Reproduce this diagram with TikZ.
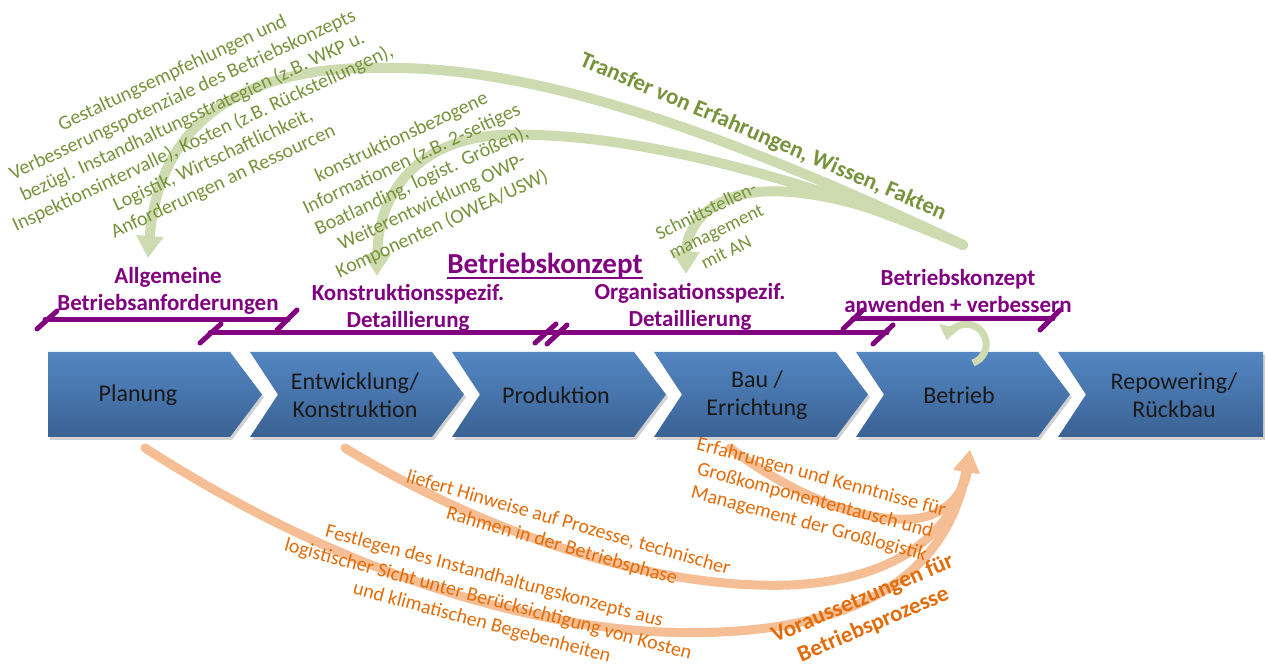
\documentclass[tikz,border=0pt]{standalone}
\usepackage{fontspec}
\setmainfont{Carlito}
\usetikzlibrary{arrows.meta,shadows}
\definecolor{chevtop}{RGB}{84,134,194}
\definecolor{chevbot}{RGB}{58,98,148}
\definecolor{purp}{RGB}{128,0,128}
\definecolor{olivetext}{RGB}{119,147,60}
\definecolor{greenband}{RGB}{206,219,176}
\definecolor{orangeband}{RGB}{245,190,148}
\definecolor{orangetext}{RGB}{227,108,9}
\begin{document}
\begin{tikzpicture}[x=0.5pt,y=-0.5pt,
  chev/.style={top color=chevtop,bottom color=chevbot,draw=none,
    drop shadow={shadow xshift=1pt,shadow yshift=-1.5pt,opacity=0.35}},
  chevlabel/.style={font=\fontsize{12}{14}\selectfont,align=center,text=black!90,inner sep=0pt},
  phase/.style={font=\fontsize{11.5}{13.5}\selectfont\bfseries,text=purp,align=center,inner sep=0pt},
  bar/.style={draw=purp,line width=2.5pt,line cap=round},
  gtext/.style={font=\fontsize{10}{12}\selectfont,text=olivetext,align=center,inner sep=0pt},
  otext/.style={font=\fontsize{10}{12}\selectfont,text=orangetext,align=center,inner sep=0pt},
  garrow/.style={draw=greenband,line width=5pt,line cap=round,-{Triangle[width=13pt,length=11pt]}},
  oarrow/.style={draw=orangeband,line width=4.5pt,line cap=round,-{Triangle[width=12pt,length=11pt]}},
  looparrow/.style={draw=greenband,line width=3.5pt,-{Triangle[width=10pt,length=7pt]}},
]
\useasboundingbox (0,0) rectangle (1266,667);
\fill[white] (0,0) rectangle (1266,667);

% green arrows
\coordinate (gsrc) at (963,245);
\coordinate (g1) at (148,258);
\coordinate (g2) at (377,276);
\coordinate (g3) at (686,274);
\draw[garrow] (gsrc) .. controls (700,120) and (520,65) .. (380,68) .. controls (260,66) and (160,110) .. (g1);
\draw[garrow] (gsrc) .. controls (800,175) and (620,130) .. (500,135) .. controls (420,140) and (378,190) .. (g2);
\draw[garrow] (gsrc) .. controls (880,205) and (800,185) .. (750,193) .. controls (705,200) and (686,230) .. (g3);

% orange arrows
\coordinate (otip) at (970,450);
\coordinate (oa) at (145,448);
\coordinate (ob) at (345,448);
\coordinate (oc) at (730,448);
\draw[oarrow] (oa) .. controls (350,580) and (560,640) .. (720,632) .. controls (880,625) and (950,560) .. (otip);
\draw[oarrow] (ob) .. controls (480,530) and (650,590) .. (790,585) .. controls (900,580) and (955,530) .. (otip);
\draw[oarrow] (oc) .. controls (800,500) and (870,525) .. (920,518) .. controls (950,512) and (965,490) .. (otip);

% chevrons
\path[chev] (48,352) -- (230,352) -- (262,394.5) -- (230,437) -- (48,437) -- cycle;
\foreach \L in {250,452,654,856}
  \path[chev] (\L,352) -- ++(182,0) -- ++(32,42.5) -- ++(-32,42.5) -- ++(-182,0) -- ++(28,-42.5) -- cycle;
\path[chev] (1058,352) -- (1263,352) -- (1263,437) -- (1058,437) -- (1086,394.5) -- cycle;

\node[chevlabel] (c1) at (138,395) {Planung};
\node[chevlabel] (c2) at (355,395) {Entwicklung/\\Konstruktion};
\node[chevlabel] (c3) at (556,395) {Produktion};
\node[chevlabel] (c4) at (757,395) {Bau /\\Errichtung};
\node[chevlabel] (c5) at (959,395) {Betrieb};
\node[chevlabel] (c6) at (1174,395) {Repowering/\\Rückbau};

% loop
\coordinate (loopstart) at (973,363);
\draw[looparrow] (loopstart) arc[start angle=70, end angle=-168, radius=20];

% purple bars
\draw[bar] (45,320) -- (288,320);
\draw[bar] (37,329) -- (57,311);
\draw[bar] (277,330) -- (297,310);
\draw[bar] (210,333) -- (552,333);
\draw[bar] (552,333) -- (887,333);
\draw[bar] (200,343) -- (221,324);
\draw[bar] (535,343) -- (556,324);
\draw[bar] (547,344) -- (567,325);
\draw[bar] (873,344) -- (893,325);
\draw[bar] (853,319) -- (1053,319);
\draw[bar] (843,329) -- (863,310);
\draw[bar] (1040,330) -- (1060,310);

% purple labels
\node[phase] (allg) at (168,291) {Allgemeine\\Betriebsanforderungen};
\node[phase] (konst) at (408,308) {Konstruktionsspezif.\\Detaillierung};
\node[phase] (orga) at (690,307) {Organisationsspezif.\\Detaillierung};
\node[phase] (anw) at (958,291) {Betriebskonzept\\anwenden + verbessern};
\node[font=\fontsize{14.5}{17}\selectfont\bfseries,text=purp,inner sep=0pt] (title) at (545,266) {Betriebskonzept};
\draw[draw=purp,line width=1pt] ([yshift=-2pt]title.base west) -- ([yshift=-2pt]title.base east);

% green texts
\node[gtext,rotate=25] (gt1) at (198,128) {Gestaltungsempfehlungen und\\Verbesserungspotenziale des Betriebskonzepts\\bezügl. Instandhaltungsstrategien (z.B. WKP u.\\Inspektionsintervalle), Kosten (z.B. Rückstellungen),\\Logistik, Wirtschaftlichkeit,\\Anforderungen an Ressourcen};
\node[gtext,rotate=25] (gt2) at (422,181) {konstruktionsbezogene\\Informationen (z.B. 2-seitiges\\Boatlanding, logist. Größen),\\Weiterentwicklung OWP-\\Komponenten (OWEA/USW)};
\node[gtext,font=\fontsize{9.5}{11.5}\selectfont,rotate=26] (gt3) at (716,231) {Schnittstellen-\\management\\mit AN};
\node[font=\fontsize{11.5}{13}\selectfont\bfseries,text=olivetext,inner sep=0pt,rotate=-23] (gt4) at (763,137) {Transfer von Erfahrungen, Wissen, Fakten};

% orange texts
\node[otext,rotate=-15] (ot1) at (815,501) {Erfahrungen und Kenntnisse für\\Großkomponententausch und\\Management der Großlogistik};
\node[otext,rotate=-16] (ot2) at (565,535) {liefert Hinweise auf Prozesse, technischer\\Rahmen in der Betriebsphase};
\node[otext,rotate=-15] (ot3) at (488,600) {Festlegen des Instandhaltungskonzepts aus\\logistischer Sicht unter Berücksichtigung von Kosten\\und klimatischen Begebenheiten};
\node[otext,font=\fontsize{11.5}{14}\selectfont\bfseries,rotate=23] (ot4) at (868,612) {Voraussetzungen für\\Betriebsprozesse};
\end{tikzpicture}
\end{document}
